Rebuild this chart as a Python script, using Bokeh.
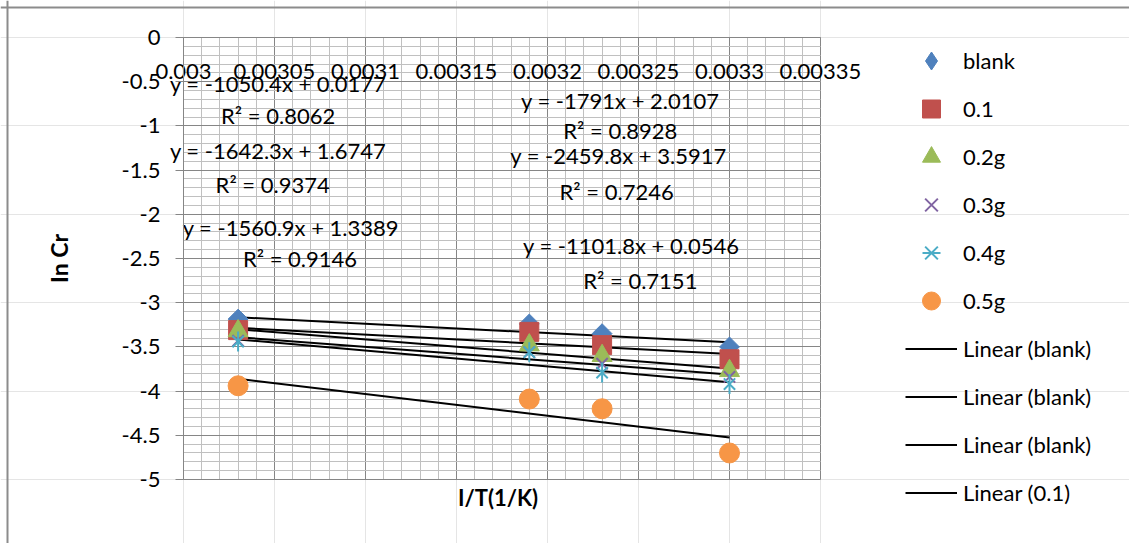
import math
from bokeh.plotting import figure
from bokeh.models import (Range1d, LinearAxis, SingleIntervalTicker, Grid, NumeralTickFormatter,
                          Legend, LegendItem, Label, Span, ColumnDataSource)
from bokeh.core.properties import value
from bokeh.embed import file_html
from bokeh.resources import INLINE

# ---------------- data ----------------
inv_T = [0.00303, 0.00319, 0.00323, 0.0033]          # I/T (1/K)
ln_blank = [-3.185, -3.24, -3.35, -3.50]
ln_01 = [-3.31, -3.33, -3.48, -3.64]
ln_02g = [-3.32, -3.48, -3.60, -3.77]
ln_03g = [-3.43, -3.56, -3.69, -3.84]
ln_04g = [-3.44, -3.56, -3.79, -3.92]
ln_05g = [-3.94, -4.09, -4.20, -4.70]
series_names = ["blank", "0.1", "0.2g", "0.3g", "0.4g", "0.5g"]

# linear trendlines (one per series, same order)
trend_slope = [-1050.4, -1101.8, -1642.3, -1560.9, -1791.0, -2459.8]
trend_intercept = [0.0177, 0.0546, 1.6747, 1.3389, 2.0107, 3.5917]
r_squared = [0.8062, 0.7151, 0.9374, 0.9146, 0.8928, 0.7246]
trend_legend_labels = ["Linear (blank)", "Linear (blank)", "Linear (blank)", "Linear (0.1)"]

x_title = "I/T(1/K)"
y_title = "In Cr"

# where each equation / R² label sits (data coords of label centre)
eq_pos_x = [0.003052, 0.003246, 0.003052, 0.003059, 0.003240, 0.003239]
eq_pos_y = [-0.52, -2.35, -1.28, -2.15, -0.71, -1.33]
r2_pos_x = [0.003052, 0.003251, 0.003049, 0.003064, 0.003240, 0.003238]
r2_pos_y = [-0.88, -2.75, -1.66, -2.50, -1.05, -1.74]

x_min, x_max = 0.003, 0.00335
y_min, y_max = -5, 0

FONT = "Lato"
FS = "22px"
W, H = 1129, 543
FL, FR, FT, FB = 183, 820, 37, 479      # plot-area box in pixels

# ranges chosen so that the frame covers the whole canvas and the
# plot area (x_min..x_max, y_min..y_max) lands on FL..FR, FT..FB
kx = (x_max - x_min) / (FR - FL)
ky = (y_max - y_min) / (FB - FT)
xr = Range1d(x_min - FL * kx, x_max + (W - FR) * kx)
yr = Range1d(y_min - (H - FB) * ky, y_max + FT * ky)

p = figure(width=W, height=H, output_backend="svg", toolbar_location=None,
           x_range=xr, y_range=yr, x_axis_location=None, y_axis_location=None,
           min_border=0, min_border_left=0, min_border_right=0,
           min_border_top=0, min_border_bottom=0, title=None)
p.outline_line_color = None
p.background_fill_color = "white"
p.border_fill_color = "white"

xticker = SingleIntervalTicker(interval=0.00005, num_minor_ticks=5)
yticker = SingleIntervalTicker(interval=0.5, num_minor_ticks=5)

# grids restricted to the plot area
gx = Grid(dimension=0, ticker=xticker, bounds=(x_min, x_max), cross_bounds=(y_min, y_max),
          grid_line_color="#868686", minor_grid_line_color="#c0c0c0", level="underlay")
gy = Grid(dimension=1, ticker=yticker, bounds=(y_min, y_max), cross_bounds=(x_min, x_max),
          grid_line_color="#868686", minor_grid_line_color="#c0c0c0", level="underlay")
p.add_layout(gx)
p.add_layout(gy)

# y axis at x = x_min
yax = LinearAxis(fixed_location=x_min, bounds=(y_min, y_max), ticker=yticker,
                 formatter=NumeralTickFormatter(format="0.[0]"))
yax.major_tick_out = 8
yax.major_tick_in = 0
yax.minor_tick_out = 0
yax.minor_tick_in = 0
yax.axis_line_color = "#868686"
yax.major_tick_line_color = "#868686"
yax.major_label_text_font = FONT
yax.major_label_text_font_size = FS
yax.major_label_text_color = "black"
yax.major_label_standoff = 15
yax.axis_label = y_title
yax.axis_label_text_font = FONT
yax.axis_label_text_font_size = "23px"
yax.axis_label_text_font_style = "bold"
yax.axis_label_text_color = "black"
yax.axis_label_standoff = 46
p.add_layout(yax, "left")

# x axis crossing at y = 0 (top of plot area)
xax = LinearAxis(fixed_location=y_max, bounds=(x_min, x_max), ticker=xticker,
                 formatter=NumeralTickFormatter(format="0.[00000]"))
xax.major_tick_out = 0
xax.major_tick_in = 0
xax.minor_tick_out = 0
xax.minor_tick_in = 0
xax.axis_line_color = "#868686"
xax.major_label_text_font = FONT
xax.major_label_text_font_size = FS
xax.major_label_text_color = "black"
xax.major_label_standoff = 26
p.add_layout(xax, "below")

# x title under the plot area
p.add_layout(Label(x=(x_min + x_max) / 2 - 4 * kx, y=y_min - 18 * ky, text=x_title,
                   text_align="center", text_baseline="middle", text_font=FONT,
                   text_font_size="22px", text_font_style="bold", text_color="black"))

# outer chart border: only its top and left edges are inside the picture
p.add_layout(Span(location=y_max + (FT - 7) * ky, dimension="width",
                  line_color="#8c8c8c", line_width=2))
p.add_layout(Span(location=x_min - (FL - 7) * kx, dimension="height",
                  line_color="#8c8c8c", line_width=2))

# ---------------- trendlines ----------------
x0, x1 = min(inv_T), max(inv_T)
trend_renderers = []
for m, b in zip(trend_slope, trend_intercept):
    r = p.line([x0, x1], [m * x0 + b, m * x1 + b], line_color="black", line_width=2)
    trend_renderers.append(r)

# ---------------- markers ----------------
BLUE, RED, GREEN, PURPLE, CYAN, ORANGE = "#4F81BD", "#C0504D", "#9BBB59", "#8064A2", "#4BACC6", "#F79646"
r_blank = p.scatter(inv_T, ln_blank, marker="square", angle=math.pi / 4, size=14,
                    fill_color=BLUE, line_color=BLUE)
r_01 = p.scatter(inv_T, ln_01, marker="square", size=19, fill_color=RED, line_color=RED)
r_02 = p.scatter(inv_T, ln_02g, marker="triangle", size=20, fill_color=GREEN, line_color=GREEN)
r_03 = p.scatter(inv_T, ln_03g, marker="x", size=16, line_color=PURPLE, line_width=2)
r_04a = p.scatter(inv_T, ln_04g, marker="x", size=16, line_color=CYAN, line_width=2)
r_04b = p.scatter(inv_T, ln_04g, marker="dash", angle=math.pi / 2, size=20,
                  line_color=CYAN, line_width=2)
r_05 = p.scatter(inv_T, ln_05g, marker="circle", size=20, fill_color=ORANGE, line_color=ORANGE)

# legend-only swatch for the diamond (legend glyphs ignore marker angle); NaN = nothing drawn
nan = float("nan")
r_blank_key = p.scatter([nan], [nan], marker="diamond", size=18, fill_color=BLUE, line_color=BLUE)

# ---------------- equation labels ----------------
eq_text = [f"y = {m:g}x + {b:g}" for m, b in zip(trend_slope, trend_intercept)]
r2_text = [f"R² = {r:.4f}" for r in r_squared]
lab_src = ColumnDataSource(dict(x=eq_pos_x + r2_pos_x, y=eq_pos_y + r2_pos_y,
                                t=eq_text + r2_text))
p.text(x="x", y="y", text="t", source=lab_src, text_font=value(FONT),
       text_font_size=FS, text_align="center", text_baseline="middle",
       text_color="black")

# ---------------- legend ----------------
items = [LegendItem(label=series_names[0], renderers=[r_blank_key]),
         LegendItem(label=series_names[1], renderers=[r_01]),
         LegendItem(label=series_names[2], renderers=[r_02]),
         LegendItem(label=series_names[3], renderers=[r_03]),
         LegendItem(label=series_names[4], renderers=[r_04a, r_04b]),
         LegendItem(label=series_names[5], renderers=[r_05])]
for lbl, r in zip(trend_legend_labels, trend_renderers):
    items.append(LegendItem(label=lbl, renderers=[r]))

GH, SP = 45, 3
leg_h = 10 * GH + 9 * SP
leg_top = 60 - GH / 2
leg = Legend(items=items, location=(905, round(H - (leg_top + leg_h))), orientation="vertical",
             padding=0, margin=0, spacing=SP, glyph_width=52, glyph_height=GH,
             label_height=24, label_standoff=6, label_text_font=FONT,
             label_text_font_size=FS, label_text_color="black",
             background_fill_alpha=0, border_line_alpha=0)
p.add_layout(leg)

open("out.html", "w").write(file_html(p, INLINE))
